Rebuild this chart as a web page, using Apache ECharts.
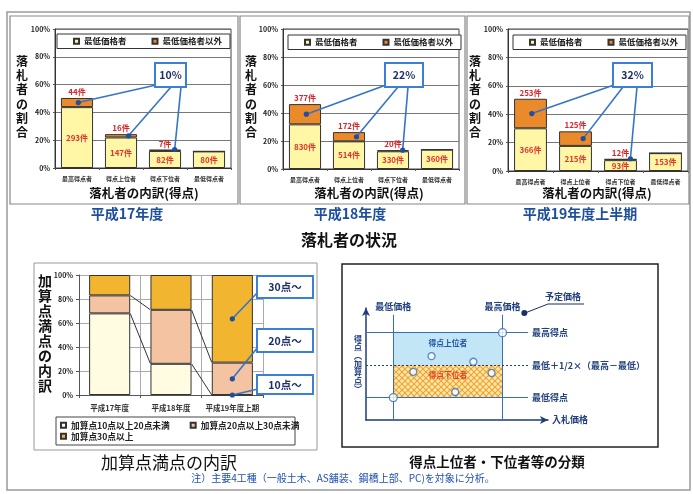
<!DOCTYPE html>
<html>
<head>
<meta charset="utf-8">
<script src="https://cdn.jsdelivr.net/npm/echarts@6/dist/echarts.min.js"></script>
<style>
html,body{margin:0;padding:0;background:#fff}
#c{width:693px;height:494px}
</style>
</head>
<body>
<div id="c"></div>
<script>
const FONT = '"Noto Sans CJK JP", "Noto Sans", sans-serif';

// 落札者の内訳（得点）: categories shared by the three yearly panels
const bidderGroups = ['最高得点者', '得点上位者', '得点下位者', '最低得点者'];
const yearTitles = ['平成17年度', '平成18年度', '平成19年度上半期'];
// 件数: 最低価格者 / 最低価格者以外
const lowestBidH17 = [293, 147, 82, 80];
const otherBidH17 = [44, 16, 7, 0];
const lowestBidH18 = [830, 514, 330, 360];
const otherBidH18 = [377, 172, 20, 0];
const lowestBidH19 = [366, 215, 93, 153];
const otherBidH19 = [253, 125, 12, 0];
const otherShareLabels = ['10%', '22%', '32%'];

// 加算点満点の内訳 (%)
const bonusYears = ['平成17年度', '平成18年度', '平成19年度上期'];
const bonus10to20 = [68, 26, 0];
const bonus20to30 = [15, 45, 27];
const bonus30plus = [17, 29, 73];
const bonusTags = ['30点～', '20点～', '10点～'];

// 得点上位者・下位者等の分類 (schematic, relative units 0-100)
const bidPrice = [36, 59, 26, 69, 49];
const bidScore = [57, 52, 43, 42, 25];
const priceMarks = [15, 75, 87];   // 最低価格, 最高価格, 予定価格
const scoreMarks = [20, 78];       // 最低得点, 最高得点

// ---------------------------------------------------------------------------
const NAVY = '#22407f';
const LINK = '#3674c6';

const chart = echarts.init(document.getElementById('c'), null, {renderer: 'canvas', width: 693, height: 494});

const share = (arr, total) => arr.map(v => v / total * 100);
const sum = a => a.reduce((s, v) => s + v, 0);

const topData = [[lowestBidH17, otherBidH17], [lowestBidH18, otherBidH18], [lowestBidH19, otherBidH19]];
const topLayout = [
  {grid: [55, 29, 176, 139], legend: [57, 34], box: [155, 63, 31, 24], anchors: [[156, 85], [171, 87], [181, 87]], yTitleX: 22, xTitleX: 144, subX: 127},
  {grid: [283, 29, 176, 140], legend: [288, 35], box: [385, 63, 38, 24], anchors: [[386, 85], [398, 87], [408, 87]], yTitleX: 251, xTitleX: 369, subX: 350},
  {grid: [508, 29, 180, 142], legend: [513, 35], box: [613, 63, 39, 24], anchors: [[614, 85], [623, 87], [637, 87]], yTitleX: 475, xTitleX: 597, subX: 580}
];
const dotOffsets = [0.03, 0.17, 0.22];

const grids = [], xAxes = [], yAxes = [], series = [], legends = [], graphics = [];

const txt = (x, y, text, size, color, weight, extra) => ({
  type: 'text', x, y, silent: true, z: 50,
  style: Object.assign({
    text, fontSize: size, fontWeight: weight || 'bold', fill: color, fontFamily: FONT,
    align: 'center', verticalAlign: 'middle', textAlign: 'center', textVerticalAlign: 'middle'
  }, extra || {})
});
const rect = (x, y, w, h, stroke, lw, fill) => ({
  type: 'rect', silent: true, z: fill ? 40 : 1,
  shape: {x, y, width: w, height: h},
  style: {fill: fill || 'none', stroke, lineWidth: lw}
});

// callout leader lines: from a fixed box anchor to a point in data space
function leaderSeries(axisIdx, pts, anchors) {
  return {
    type: 'custom', xAxisIndex: axisIdx, yAxisIndex: axisIdx, z: 30, silent: true,
    data: pts,
    renderItem(params, api) {
      const p = api.coord([api.value(0), api.value(1)]);
      const band = api.size([1, 0])[0];
      const x = p[0] + api.value(2) * band;
      const a = anchors[params.dataIndex];
      return {type: 'group', children: [
        {type: 'line', shape: {x1: a[0], y1: a[1], x2: x, y2: p[1]}, style: {stroke: LINK, lineWidth: 1.6}},
        {type: 'circle', shape: {cx: x, cy: p[1], r: 2.6}, style: {fill: '#1f4f9e'}}
      ]};
    }
  };
}

// ---- three yearly panels ---------------------------------------------------
topData.forEach(([low, other], i) => {
  const L = topLayout[i];
  const total = sum(low) + sum(other);
  const lowPct = share(low, total);
  const otherPct = share(other, total);

  grids.push({left: L.grid[0], top: L.grid[1], width: L.grid[2], height: L.grid[3],
    show: true, borderColor: '#444', borderWidth: 1, containLabel: false, outerBoundsMode: 'none'});
  xAxes.push({
    type: 'category', gridIndex: i, data: bidderGroups,
    axisLine: {lineStyle: {color: '#333'}},
    axisTick: {show: true, length: 2, lineStyle: {color: '#555'}},
    axisLabel: {interval: 0, fontSize: 6, fontWeight: 'bold', color: '#333', margin: 8, fontFamily: FONT}
  });
  yAxes.push({
    type: 'value', gridIndex: i, min: 0, max: 100, interval: 20,
    axisLine: {show: true, lineStyle: {color: '#333'}},
    axisTick: {show: true, length: 2, lineStyle: {color: '#555'}},
    axisLabel: {formatter: '{value}%', fontSize: 7, fontWeight: 'bold', color: '#222', margin: 5, fontFamily: FONT},
    splitLine: {show: true, lineStyle: {color: '#777', width: 1}}
  });
  series.push({
    type: 'bar', name: '最低価格者', xAxisIndex: i, yAxisIndex: i, stack: 'win' + i,
    barCategoryGap: '27%', data: lowPct,
    itemStyle: {color: '#fff6a6', borderColor: '#333', borderWidth: 1},
    label: {show: true, position: 'inside', formatter: p => low[p.dataIndex] + '件',
      fontSize: 8, fontWeight: 'bold', color: '#e2352c', fontFamily: FONT}
  });
  series.push({
    type: 'bar', name: '最低価格者以外', xAxisIndex: i, yAxisIndex: i, stack: 'win' + i,
    barCategoryGap: '27%', data: otherPct,
    itemStyle: {color: '#ea8a2b', borderColor: '#333', borderWidth: 1},
    label: {show: true, position: 'top', distance: 2,
      formatter: p => other[p.dataIndex] > 0 ? other[p.dataIndex] + '件' : '',
      fontSize: 8, fontWeight: 'bold', color: '#d8262a', fontFamily: FONT}
  });
  const pts = [0, 1, 2].map(k => [k, lowPct[k] + (k < 2 ? otherPct[k] / 2 : otherPct[k]), dotOffsets[k]]);
  series.push(leaderSeries(i, pts, L.anchors));

  legends.push({
    left: L.legend[0], top: L.legend[1], orient: 'horizontal',
    padding: [3, 8, 3, 16], itemGap: 25, itemWidth: 5, itemHeight: 5, icon: 'rect',
    backgroundColor: '#fff', borderColor: '#333', borderWidth: 1, selectedMode: false,
    data: ['最低価格者', '最低価格者以外'],
    textStyle: {fontSize: 8.5, fontWeight: 'bold', color: '#222', fontFamily: FONT}
  });

  const b = L.box;
  graphics.push(rect(b[0], b[1], b[2], b[3], '#3c7fd6', 2, '#fff'));
  graphics.push(txt(b[0] + b[2] / 2, b[1] + b[3] / 2 + 0.5, otherShareLabels[i], 10.5, '#1d2f6b'));
  graphics.push(txt(L.yTitleX, 97, '落\n札\n者\nの\n割\n合', 12, '#111', 'bold', {lineHeight: 14.2}));
  graphics.push(txt(L.xTitleX, 193, '落札者の内訳(得点)', 12.5, '#111', 'bold'));
  graphics.push(txt(L.subX, 214, yearTitles[i], 14, '#1d4f9c', 'bold'));
});

// ---- 加算点満点の内訳 --------------------------------------------------------
const BI = 3;
const bonusBarRatio = 0.67;
grids.push({left: 79, top: 275, width: 184, height: 120, containLabel: false, outerBoundsMode: 'none'});
xAxes.push({
  type: 'category', gridIndex: BI, data: bonusYears,
  axisLine: {lineStyle: {color: '#555'}},
  axisTick: {show: true, length: 3, lineStyle: {color: '#555'}},
  axisLabel: {interval: 0, fontSize: 7.5, fontWeight: 'bold', color: '#333', margin: 9, fontFamily: FONT},
  splitLine: {show: true, lineStyle: {color: '#aaa'}}
});
yAxes.push({
  type: 'value', gridIndex: BI, min: 0, max: 100, interval: 20,
  axisLine: {show: true, lineStyle: {color: '#555'}},
  axisTick: {show: true, length: 3, lineStyle: {color: '#555'}},
  axisLabel: {formatter: '{value}%', fontSize: 7, fontWeight: 'bold', color: '#222', margin: 6, fontFamily: FONT},
  splitLine: {show: true, lineStyle: {color: '#aaa'}}
});
const bonusSeries = [
  ['加算点10点以上20点未満', bonus10to20, '#fffce2'],
  ['加算点20点以上30点未満', bonus20to30, '#f4c3a2'],
  ['加算点30点以上', bonus30plus, '#f1b52f']
];
bonusSeries.forEach(([name, data, color]) => series.push({
  type: 'bar', name, xAxisIndex: BI, yAxisIndex: BI, stack: 'bonus',
  barCategoryGap: '33%', data,
  itemStyle: {color, borderColor: '#333', borderWidth: 1}
}));
// series lines joining the stacked segment tops of neighbouring years
const cumLow = bonus10to20.slice();
const cumMid = bonus10to20.map((v, k) => v + bonus20to30[k]);
series.push({
  type: 'custom', xAxisIndex: BI, yAxisIndex: BI, z: 20, silent: true,
  data: [0, 1].map(k => [k, cumLow[k], cumLow[k + 1], cumMid[k], cumMid[k + 1]]),
  renderItem(params, api) {
    const k = api.value(0);
    const half = api.size([1, 0])[0] * bonusBarRatio / 2;
    const children = [[1, 2], [3, 4]].map(([d0, d1]) => {
      const a = api.coord([k, api.value(d0)]);
      const b = api.coord([k + 1, api.value(d1)]);
      return {type: 'line', shape: {x1: a[0] + half, y1: a[1], x2: b[0] - half, y2: b[1]},
        style: {stroke: '#333', lineWidth: 1}};
    });
    return {type: 'group', children};
  }
});
const lastYr = bonusYears.length - 1;
series.push(leaderSeries(BI, [
  [lastYr, cumMid[lastYr] + bonus30plus[lastYr] / 2, 0],
  [lastYr, cumLow[lastYr] + bonus20to30[lastYr] / 2, 0],
  [lastYr, bonus10to20[lastYr] / 2, 0]
], [[258, 292], [258, 347], [258, 389]]));
[[276, 22], [329, 23], [375, 19]].forEach(([y, h], k) => {
  graphics.push(rect(257, y, 56, h, '#3c7fd6', 2, '#fff'));
  graphics.push(txt(285, y + h / 2 + 0.5, bonusTags[k], 10.5, '#1d2f6b'));
});
legends.push({
  left: 60, top: 421, padding: 0, itemGap: 20, itemWidth: 5, itemHeight: 5, icon: 'rect',
  selectedMode: false, data: [bonusSeries[0][0], bonusSeries[1][0]],
  textStyle: {fontSize: 8.7, fontWeight: 'bold', color: '#222', fontFamily: FONT}
});
legends.push({
  left: 60, top: 432, padding: 0, itemWidth: 5, itemHeight: 5, icon: 'rect',
  selectedMode: false, data: [bonusSeries[2][0]],
  textStyle: {fontSize: 8.7, fontWeight: 'bold', color: '#222', fontFamily: FONT}
});
graphics.push(rect(56, 417, 239, 28, '#444', 1));
graphics.push(txt(45, 333, '加\n算\n点\n満\n点\nの\n内\n訳', 14, '#111', 'bold', {lineHeight: 15}));
graphics.push(txt(169, 463, '加算点満点の内訳', 17, '#111', 'normal'));

// ---- 得点上位者・下位者等の分類 -----------------------------------------------
const DI = 4;
const lineTop = 94, lineRight = 89, planTop = 105;
const midScore = (scoreMarks[0] + scoreMarks[1]) / 2;
function hatchCanvas() {
  const c = document.createElement('canvas');
  c.width = c.height = 6;
  const g = c.getContext('2d');
  g.fillStyle = '#fbe8a4';
  g.fillRect(0, 0, 6, 6);
  g.strokeStyle = '#efa23a';
  g.lineWidth = 1.1;
  g.beginPath();
  g.moveTo(0, 0); g.lineTo(6, 6);
  g.moveTo(6, 0); g.lineTo(0, 6);
  g.stroke();
  return c;
}
grids.push({left: 366, top: 308, width: 182, height: 112, containLabel: false, outerBoundsMode: 'none'});
const arrowAxis = {
  axisLine: {show: true, symbol: ['none', 'arrow'], symbolSize: [6, 8], lineStyle: {color: '#1e3d7b', width: 1.5}},
  axisTick: {show: false}, axisLabel: {show: false}, splitLine: {show: false}
};
xAxes.push(Object.assign({
  type: 'value', gridIndex: DI, min: 0, max: 100,
  name: '入札価格', nameLocation: 'end', nameGap: 4,
  nameTextStyle: {color: NAVY, fontSize: 9, fontWeight: 'bold', fontFamily: FONT, align: 'left', verticalAlign: 'middle'}
}, arrowAxis));
yAxes.push(Object.assign({
  type: 'value', gridIndex: DI, min: 0, max: 100,
  name: '得\n点\n︵\n加\n算\n点\n︶', nameLocation: 'middle', nameGap: 4, nameRotate: 0,
  nameTextStyle: {color: NAVY, fontSize: 8, lineHeight: 8.3, fontWeight: 'bold', fontFamily: FONT}
}, arrowAxis));

const mlLabel = {show: true, color: NAVY, fontSize: 9, fontWeight: 'bold', fontFamily: FONT, distance: 4};
const thin = {color: '#3a6db4', width: 1, type: 'solid'};
series.push({
  type: 'scatter', name: 'bidders', xAxisIndex: DI, yAxisIndex: DI, clip: false, z: 6, silent: true,
  data: bidPrice.map((x, k) => [x, bidScore[k]]),
  symbol: 'circle', symbolSize: 7,
  itemStyle: {color: '#fff', borderColor: '#3a6db4', borderWidth: 1.3},
  markArea: {
    silent: true,
    data: [
      [{name: '得点上位者', coord: [priceMarks[0], midScore], itemStyle: {color: '#c3e6f7'},
        label: {show: true, position: 'insideTop', distance: 7, color: '#2257a8', fontSize: 7.8, fontWeight: 'bold', fontFamily: FONT}},
       {coord: [priceMarks[1], scoreMarks[1]]}],
      [{name: '得点下位者', coord: [priceMarks[0], scoreMarks[0]], itemStyle: {color: {image: hatchCanvas(), repeat: 'repeat'}},
        label: {show: true, position: 'insideTop', distance: 6, color: '#e2462a', fontSize: 7.8, fontWeight: 'bold', fontFamily: FONT}},
       {coord: [priceMarks[1], midScore]}]
    ]
  },
  markLine: {
    silent: true, symbol: ['none', 'none'], lineStyle: thin, label: mlLabel,
    data: [
      [{coord: [priceMarks[0], 0]}, {coord: [priceMarks[0], lineTop], label: {position: 'end', formatter: '最低価格'}}],
      [{coord: [priceMarks[1], 0]}, {coord: [priceMarks[1], lineTop], label: {position: 'end', formatter: '最高価格'}}],
      [{coord: [0, scoreMarks[1]]}, {coord: [lineRight, scoreMarks[1]], label: {position: 'end', formatter: '最高得点'}}],
      [{coord: [0, midScore], lineStyle: {type: [2, 2], color: '#22407f', width: 1.2}},
       {coord: [lineRight, midScore], label: {position: 'end', formatter: '最低＋1/2×（最高－最低）'}}],
      [{coord: [0, scoreMarks[0]]}, {coord: [lineRight, scoreMarks[0]], label: {position: 'end', formatter: '最低得点'}}],
      [{coord: [priceMarks[2], 0], lineStyle: {color: '#1a2e66', width: 2.2}},
       {coord: [priceMarks[2], planTop], label: {show: false}}]
    ]
  },
  markPoint: {
    silent: true, symbol: 'circle', symbolSize: 6, label: {show: false},
    itemStyle: {color: '#1a2e66'},
    data: [{coord: [priceMarks[2], 95.5]}]
  }
});
series.push({
  type: 'scatter', name: 'corners', xAxisIndex: DI, yAxisIndex: DI, clip: false, z: 7, silent: true,
  data: [[priceMarks[1], scoreMarks[1]], [priceMarks[0], scoreMarks[0]]],
  symbol: 'circle', symbolSize: 8,
  itemStyle: {color: '#fff', borderColor: '#3a6db4', borderWidth: 1.3}
});
// 予定価格 tag with leader
graphics.push({type: 'polyline', silent: true, z: 45, shape: {points: [[525, 313], [548, 304], [584, 304]]},
  style: {stroke: '#1a2e66', lineWidth: 1, fill: 'none'}});
graphics.push(txt(563, 297, '予定価格', 9, NAVY, 'bold'));
graphics.push(rect(342, 264, 316, 183, '#222', 1.5));
graphics.push(txt(497, 462, '得点上位者・下位者等の分類', 13.5, '#111', 'bold'));

// ---- frames and headings -------------------------------------------------
graphics.push(rect(7, 12, 683, 478, '#9a9a9a', 1.5));
graphics.push(rect(10, 16, 228, 188, '#888', 1.2));
graphics.push(rect(240, 16, 225, 188, '#888', 1.2));
graphics.push(rect(467, 16, 222, 188, '#888', 1.2));
graphics.push(rect(34, 263, 283, 187, '#999', 1));
graphics.push(txt(349, 240, '落札者の状況', 16, '#111', 'bold'));
graphics.push(txt(343, 478, '注）主要4工種（一般土木、AS舗装、鋼橋上部、PC)を対象に分析。', 10, '#2050b0', 'normal'));

chart.setOption({
  backgroundColor: '#fff',
  animation: false,
  textStyle: {fontFamily: FONT},
  grid: grids,
  xAxis: xAxes,
  yAxis: yAxes,
  legend: legends,
  series,
  graphic: {elements: graphics}
});
</script>
</body>
</html>
